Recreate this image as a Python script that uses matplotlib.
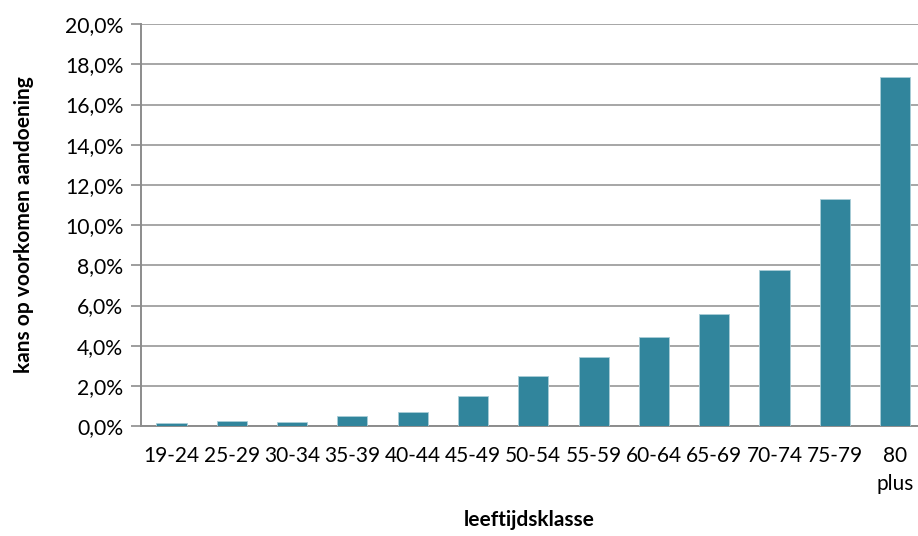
import numpy as np
import matplotlib.pyplot as plt
from matplotlib.ticker import FuncFormatter

plt.rcParams['font.family'] = ['Lato', 'DejaVu Sans']

categories = ['19-24', '25-29', '30-34', '35-39', '40-44', '45-49', '50-54',
              '55-59', '60-64', '65-69', '70-74', '75-79', '80\nplus']
values = [0.16, 0.26, 0.22, 0.49, 0.71, 1.48, 2.48, 3.43, 4.43, 5.6,
          7.78, 11.3, 17.38]

fig = plt.figure(figsize=(9.18, 5.36), dpi=100)
ax = fig.add_axes([0.154, 0.205, 0.846, 0.75])

x = np.arange(len(categories))
ax.bar(x, values, width=0.5, color='#31859c', edgecolor='#a9cdd7',
       linewidth=0.6, zorder=3)

ax.set_ylim(0, 20)
ax.set_xlim(-0.5, 12.38)
ax.set_yticks(np.arange(0, 21, 2))
ax.yaxis.set_major_formatter(FuncFormatter(lambda v, p: '{:.1f}%'.format(v).replace('.', ',')))
ax.set_xticks(x)
ax.set_xticklabels(categories, linespacing=1.5)

ax.grid(axis='y', color='#a6a6a6', linewidth=1.4, zorder=0)
for s in ['top', 'right']:
    ax.spines[s].set_visible(False)
for s in ['left', 'bottom']:
    ax.spines[s].set_color('#8c8c8c')
    ax.spines[s].set_linewidth(1.4)

ax.tick_params(axis='y', length=7, width=1.2, color='#8c8c8c', labelsize=15.2, pad=6)
ax.tick_params(axis='x', length=0, labelsize=15, pad=14)

ax.set_ylabel('kans op voorkomen aandoening', fontsize=15, fontweight='bold', labelpad=22)
ax.set_xlabel('leeftijdsklasse', fontsize=15, fontweight='bold', labelpad=12)

fig.savefig('out.png', dpi=100)
